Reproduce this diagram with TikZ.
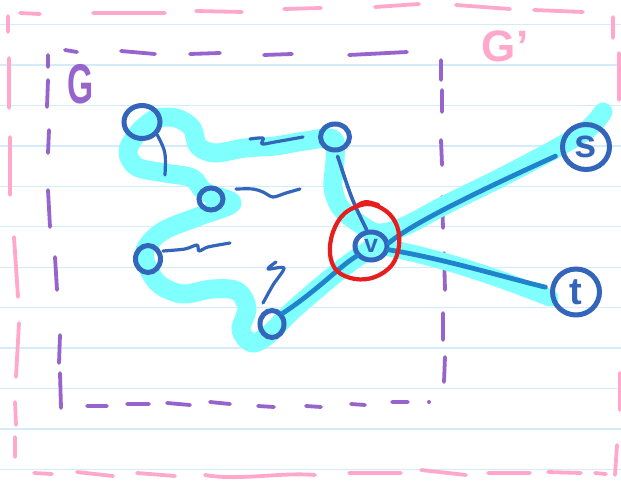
\documentclass[tikz,border=0pt]{standalone}
\usepackage{fontspec}
\setmainfont{Liberation Sans}
\usetikzlibrary{shapes.geometric}
\definecolor{vblue}{RGB}{51,102,187}
\definecolor{hblue}{RGB}{32,132,204}
\definecolor{hcyan}{RGB}{128,255,255}
\definecolor{ringred}{RGB}{230,30,30}
\definecolor{gpurple}{RGB}{150,100,204}
\definecolor{gpink}{RGB}{255,168,204}
\definecolor{paperline}{RGB}{212,236,250}
\tikzset{
  paper/.style={draw=paperline, line width=1.4pt},
  pk/.style={draw=gpink, line width=3.8pt, line cap=round},
  pu/.style={draw=gpurple, line width=3.8pt, line cap=round},
  hl/.style={draw=hcyan, line width=19pt, line cap=round, line join=round},
  vert/.style={ellipse, draw=vblue, line width=5pt, inner sep=0pt, text=vblue},
  plainedge/.style={draw=vblue, line width=3.6pt, line cap=round},
  hedge/.style={draw=hblue, line width=4.8pt, line cap=round},
  sq/.style={draw=vblue, line width=3.2pt, line cap=round, line join=round},
  ring/.style={draw=ringred, line width=4.2pt, line cap=round}
}
\begin{document}
\begin{tikzpicture}[x=1pt,y=-1pt]
\useasboundingbox (0,0) rectangle (621,484);
\fill[white] (0,0) rectangle (621,484);
% paper lines
\foreach \k in {0,...,11} \draw[paper] (0,{24.5+40.45*\k}) -- (621,{24.5+40.45*\k});
% pink dashed frame G'
\draw[pk] (8,16)--(8,32) (20,13)--(40,14)
  (93,13)--(165,13) (196,11)--(242,12) (284,9)--(321,8) (375,7)--(419,4)
  (456,5)--(510,9) (534,10)--(583,12)
  (9,58)--(9,108) (10,137)--(10,195) (14,237)--(18,297) (19,323)--(16,377)
  (15,402)--(16,425) (15,437)--(15,457)
  (34,473)--(52,474) (77,472)--(113,476) (137,473)--(175,476)
  (349,473)--(401,473) (421,470)--(466,475) (488,473)--(530,473)
  (548,472)--(581,473) (595,473)--(606,474)
  (613,17)--(613,38) (619,53)--(619,100) (620,373)--(620,410) (617,445)--(615,475);
\draw[pk] (205,475) .. controls (240,481) and (280,472) .. (315,475);
% purple dashed frame G
\draw[pu] (48,55)--(48,67) (65,50)--(77,52)
  (121,51)--(155,54) (190,54)--(220,53) (264,55)--(292,54) (349,55)--(407,52)
  (48,80)--(47,107) (49,130)--(48,153) (48,190)--(50,227) (55,257)--(57,290)
  (60,335)--(59,363) (60,373)--(61,408)
  (87,406)--(107,406) (127,404)--(149,404) (167,403)--(190,405) (210,402)--(230,404)
  (258,406)--(274,407) (306,406)--(321,407) (351,404)--(365,405) (392,402)--(408,402)
  (441,60)--(441,80) (442,90)--(442,112) (441,140)--(442,165) (442,197)--(443,228)
  (444,253)--(445,290) (443,313)--(443,340) (445,357)--(444,382);
\fill[gpurple] (429,402) circle (2pt);
% labels
\node[text=gpurple, font=\bfseries\fontsize{56}{58}\selectfont] (lblG) at (81,84) {\scalebox{0.6}[1]{G}};
\node[text=gpink, font=\bfseries\fontsize{44}{46}\selectfont] (lblGp) at (505,46) {G'};
% highlight
\draw[hl] plot[smooth, tension=0.55] coordinates {
  (603,112) (588,129) (555,149) (500,178) (445,205) (405,226) (378,233)
  (357,222) (340,207) (333,187) (335,160) (333,139) (305,141) (275,146)
  (245,148) (215,153) (198,146) (192,128) (176,118) (155,119) (137,134)
  (128,152) (137,167) (165,173) (192,178) (205,192) (232,203) (200,216)
  (163,231) (145,250) (148,268) (160,285) (183,294) (212,289) (237,291)
  (247,308) (241,330) (252,343) (268,335) (292,311) (322,285) (348,264)
  (372,248) (385,240)};
\draw[hl, line width=17pt] plot[smooth, tension=0.5] coordinates {
  (385,247) (420,255) (460,266) (505,281) (550,298)};
% vertices
\node[vert, minimum width=36pt, minimum height=33pt] (A) at (142,122) {};
\node[vert, minimum width=29pt, minimum height=26pt] (B) at (335,137) {};
\node[vert, minimum width=24pt, minimum height=22pt] (C) at (211,199) {};
\node[vert, minimum width=25pt, minimum height=27pt] (D) at (148,259) {};
\node[vert, minimum width=24pt, minimum height=27pt] (E) at (272,324) {};
\node[vert, minimum width=32pt, minimum height=28pt, font=\bfseries\fontsize{25}{25}\selectfont] (v) at (371,246) {v};
\node[vert, minimum width=47pt, minimum height=45pt, font=\bfseries\fontsize{40}{40}\selectfont] (s) at (586,147) {s};
\node[vert, minimum width=47pt, minimum height=46pt, font=\bfseries\fontsize{38}{38}\selectfont] (t) at (576,292) {t};
% edges
\draw[plainedge, shorten <=4pt] (B.-85) .. controls (352,200) .. (v.105);
\draw[hedge] (E.45) .. controls (318,290) and (340,266) .. (v.215);
\draw[hedge, shorten >=6pt] (v.10) .. controls (410,225) and (470,195) .. (s.195);
\draw[hedge, shorten >=5pt] (v.-12) .. controls (440,258) and (500,276) .. (t.172);
% stray strokes
\draw[sq] (A.-40) .. controls (166,152) .. (165,175);
\draw[sq] plot[smooth, tension=0.5] coordinates {(250,139) (263,138) (262,144) (275,142) (303,137)};
\draw[sq] plot[smooth, tension=0.5] coordinates {(236,189) (253,189) (263,192) (273,197) (286,193) (300,189)};
\draw[sq] plot[smooth, tension=0.5] coordinates {(163,251) (185,249) (197,245) (199,251) (208,247) (230,243)};
\draw[sq] plot[smooth, tension=0.5] coordinates {(276,262) (268,269) (284,268) (273,285) (263,303)};
% red ring around v
\draw[ring] plot[smooth cycle, tension=0.6] coordinates {
  (367,204) (386,211) (397,226) (399,246) (392,265) (375,277) (355,279)
  (337,271) (330,254) (333,232) (345,213)};
\draw[ring] (357,206) .. controls (365,201) .. (378,205);
\end{tikzpicture}
\end{document}
